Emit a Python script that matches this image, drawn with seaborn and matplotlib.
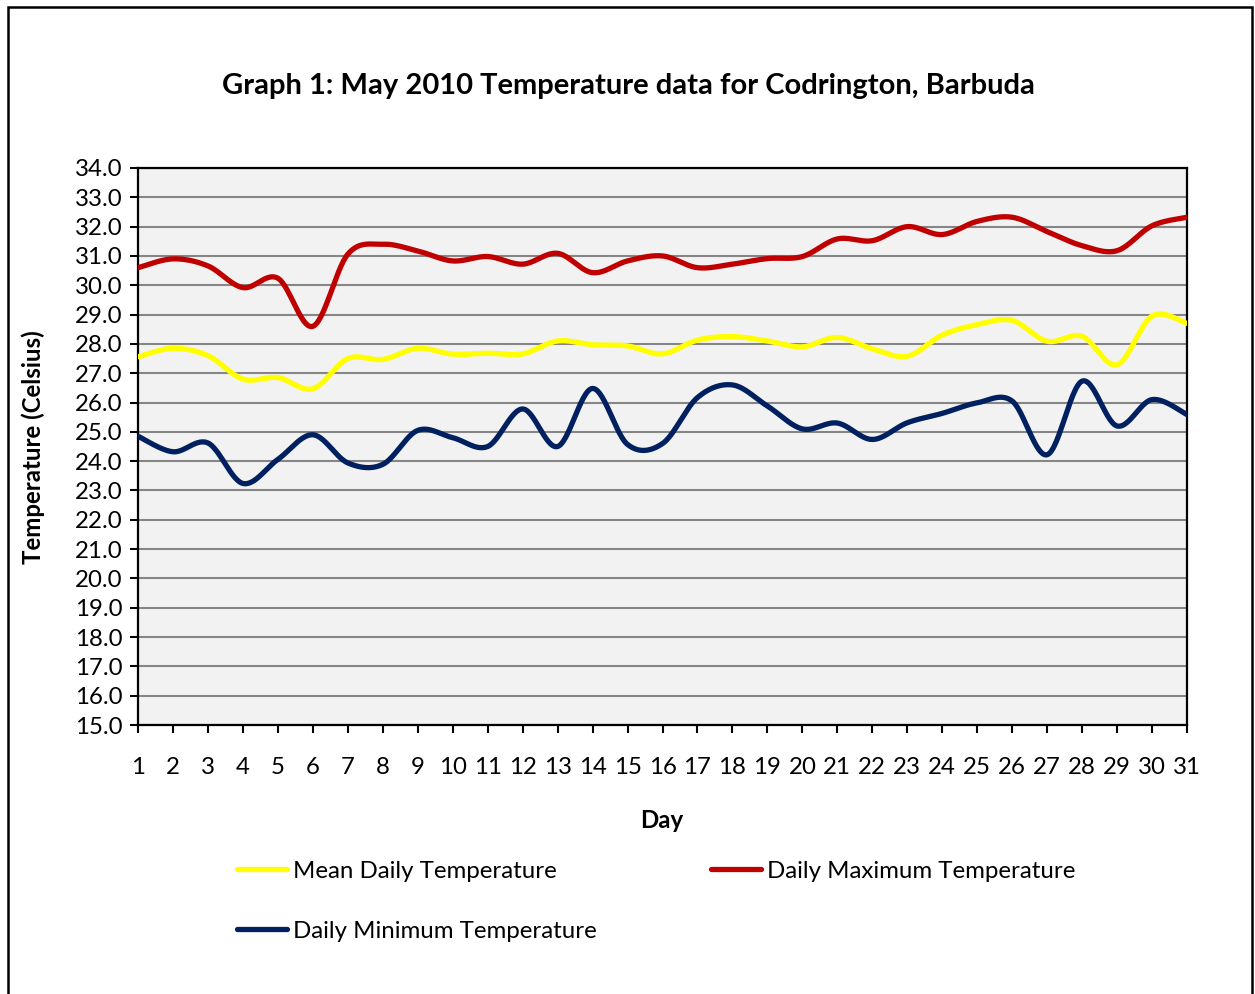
import numpy as np
import pandas as pd
import matplotlib
matplotlib.use("Agg")
import matplotlib.pyplot as plt
import seaborn as sns
from matplotlib.patches import Rectangle

# ---- data ----
days = list(range(1, 32))
mean_temp = [27.56, 27.85, 27.6, 26.8, 26.85, 26.47, 27.5, 27.47, 27.85, 27.65, 27.68,
             27.66, 28.1, 27.97, 27.93, 27.66, 28.13, 28.25, 28.1, 27.9, 28.22,
             27.83, 27.58, 28.3, 28.66, 28.8, 28.09, 28.26, 27.29, 28.95, 28.7]
max_temp = [30.6, 30.9, 30.66, 29.92, 30.24, 28.6, 31.06, 31.4, 31.17, 30.83, 30.98,
            30.72, 31.09, 30.43, 30.83, 31.0, 30.6, 30.72, 30.91, 30.98, 31.58,
            31.52, 32.0, 31.73, 32.18, 32.32, 31.83, 31.35, 31.18, 32.03, 32.32]
min_temp = [24.85, 24.32, 24.62, 23.24, 24.06, 24.9, 23.94, 23.89, 25.05, 24.8, 24.5,
            25.78, 24.5, 26.48, 24.57, 24.6, 26.17, 26.6, 25.88, 25.1, 25.3,
            24.74, 25.31, 25.63, 25.99, 26.05, 24.22, 26.73, 25.2, 26.1, 25.59]
series_names = ["Mean Daily Temperature", "Daily Maximum Temperature", "Daily Minimum Temperature"]
y_ticks = [15 + i for i in range(20)]

colors = {"Mean Daily Temperature": "#FFFF00",
          "Daily Maximum Temperature": "#C00000",
          "Daily Minimum Temperature": "#002060"}


def smooth(x, y, n=30):
    """Bezier smoothing like spreadsheet 'smoothed line' rendering."""
    x = np.asarray(x, float)
    y = np.asarray(y, float)
    px = np.concatenate([[x[0]], x, [x[-1]]])
    py = np.concatenate([[y[0]], y, [y[-1]]])
    xs, ys = [], []
    t = np.linspace(0, 1, n, endpoint=False)
    for i in range(1, len(px) - 2):
        p0x, p0y = px[i], py[i]
        p3x, p3y = px[i + 1], py[i + 1]
        c1x = p0x + (px[i + 1] - px[i - 1]) / 6
        c1y = p0y + (py[i + 1] - py[i - 1]) / 6
        c2x = p3x - (px[i + 2] - px[i]) / 6
        c2y = p3y - (py[i + 2] - py[i]) / 6
        b0 = (1 - t) ** 3
        b1 = 3 * (1 - t) ** 2 * t
        b2 = 3 * (1 - t) * t ** 2
        b3 = t ** 3
        xs.append(b0 * p0x + b1 * c1x + b2 * c2x + b3 * p3x)
        ys.append(b0 * p0y + b1 * c1y + b2 * c2y + b3 * p3y)
    xs.append([x[-1]])
    ys.append([y[-1]])
    return np.concatenate(xs), np.concatenate(ys)


sns.set_theme(style="white")
plt.rcParams["font.family"] = ["Lato", "DejaVu Sans"]
plt.rcParams["text.color"] = "black"
plt.rcParams["axes.labelcolor"] = "black"
plt.rcParams["xtick.color"] = "black"
plt.rcParams["ytick.color"] = "black"

fig = plt.figure(figsize=(12.55, 9.94), dpi=100)
ax = fig.add_axes([138 / 1255, 1 - 725 / 994, (1187 - 138) / 1255, (725 - 168) / 994])
ax.set_facecolor("#F2F2F2")

handles = {}
for name, vals in zip(series_names, [mean_temp, max_temp, min_temp]):
    sx, sy = smooth(days, vals)
    df = pd.DataFrame({"Day": sx, "Temp": sy})
    sns.lineplot(data=df, x="Day", y="Temp", ax=ax, color=colors[name], lw=3.8,
                 sort=False, estimator=None, solid_capstyle="round", zorder=3)
    handles[name] = ax.lines[-1]

FS = 17.3
ax.set_xlim(1, 31)
ax.set_ylim(15, 34)
ax.set_xticks(days)
ax.set_xticklabels([str(d) for d in days], fontsize=FS)
ax.set_yticks(y_ticks)
ax.set_yticklabels([f"{v:.1f}" for v in y_ticks], fontsize=FS)
ax.yaxis.grid(True, color="#868686", lw=1.5)
ax.xaxis.grid(False)
ax.set_axisbelow(True)
for s in ax.spines.values():
    s.set_color("black")
    s.set_linewidth(1.6)
ax.tick_params(axis="both", which="both", direction="out", length=6, width=1.5,
               color="black", left=True, bottom=True)
ax.tick_params(axis="x", pad=17)
ax.tick_params(axis="y", pad=5)

ax.set_xlabel("Day", fontsize=FS, fontweight="bold")
ax.xaxis.set_label_coords((662 - 138) / (1187 - 138), -(820 - 725) / (725 - 168))
ax.xaxis.label.set_va("center")
ax.set_ylabel("Temperature (Celsius)", fontsize=FS, fontweight="bold")
ax.yaxis.set_label_coords(-(138 - 33) / (1187 - 138), (725 - 447) / (725 - 168))
ax.yaxis.label.set_va("center")
fig.text(628 / 1255, 1 - 86 / 994, "Graph 1: May 2010 Temperature data for Codrington, Barbuda",
         ha="center", va="center", fontsize=21, fontweight="bold")

order = ["Mean Daily Temperature", "Daily Minimum Temperature", "Daily Maximum Temperature"]
leg = fig.legend([handles[n] for n in order], order, ncol=2, frameon=False,
                 loc="upper left", bbox_to_anchor=(227 / 1255, 1 - 851 / 994),
                 fontsize=FS, handlelength=2.1, handletextpad=0.25,
                 columnspacing=4.75, labelspacing=1.62, borderaxespad=0, borderpad=0.4)

fig.patches.append(Rectangle((8 / 1255, -0.01), (1252 - 8) / 1255, 1.01 - 7 / 994,
                             transform=fig.transFigure, fill=False, edgecolor="black",
                             lw=1.8, zorder=0))

fig.savefig("out.png", dpi=100)
